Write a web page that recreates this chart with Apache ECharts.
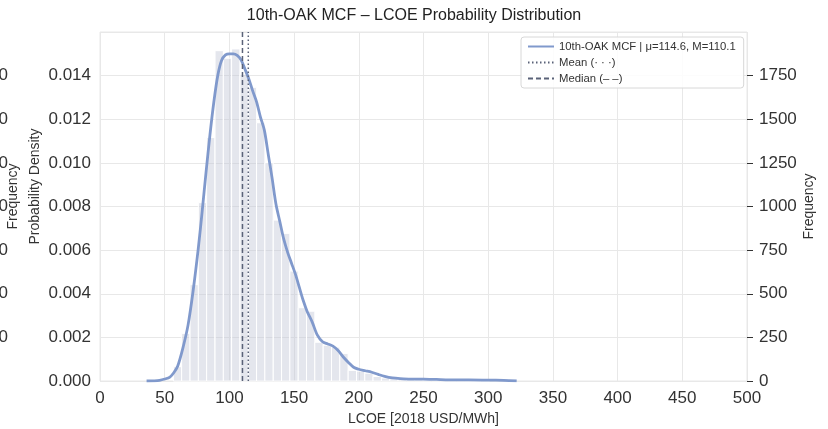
<!DOCTYPE html>
<html>
<head>
    <meta charset="UTF-8">
    <title>LCOE Probability Distribution</title>
    <style type="text/css">
        html, body {
            margin: 0;
            padding: 0;
            background: #ffffff;
        }

        #main {
            width: 828px;
            height: 429px;
        }
    </style>
    <script type="text/javascript" src="https://cdn.jsdelivr.net/npm/echarts@6/dist/echarts.min.js"></script>
</head>
<body>
<div id="main"></div>
<script type="text/javascript">
    // histogram: left edge of each bin (USD/MWh) and counts (right axis)
    var binWidth = 6.43;
    var binLeft = [56.7, 63.1, 69.6, 76.0, 82.4, 88.9, 95.3, 101.7, 108.2, 114.6,
        121.0, 127.4, 133.9, 140.3, 146.7, 153.2, 159.6, 166.0, 172.5, 178.9,
        185.3, 191.8, 198.2, 204.6, 211.0, 217.5, 223.9, 230.3, 236.8, 243.2,
        249.6, 256.1, 262.5, 268.9, 275.4, 281.8, 288.2, 294.7];
    var binCount = [82, 273, 552, 1022, 1395, 1893, 1850, 1903, 1758, 1683,
        1480, 1250, 922, 846, 630, 420, 400, 222, 205, 194,
        158, 61, 57, 45, 26, 17, 13, 10, 8, 7,
        5, 4, 3, 3, 2, 2, 1, 1];

    // KDE curve (left axis, probability density)
    var kdeX = [36, 42, 46, 50, 54, 57, 60, 64, 68, 72, 76, 79, 82, 85, 88, 91, 94, 97, 100, 103,
        106, 109, 112, 115, 118, 121, 124, 127, 130, 133, 136, 139, 142, 145, 148, 151, 154, 157, 160, 164,
        168, 172, 176, 180, 184, 188, 192, 196, 200, 205, 210, 215, 220, 226, 232, 240, 250, 260, 270, 285,
        300, 312, 322];
    var kdeY = [0, 0.00001, 0.00003, 0.00009, 0.00018, 0.00038, 0.00068, 0.0015, 0.00255, 0.00415,
        0.0061, 0.0078, 0.0096, 0.0113, 0.0128, 0.014, 0.0147, 0.01495, 0.015, 0.015,
        0.01493, 0.01472, 0.0143, 0.01385, 0.0133, 0.0128, 0.0121, 0.0115, 0.0104, 0.0093,
        0.0081, 0.0073, 0.0065, 0.0059, 0.0054, 0.0049, 0.0043, 0.0037, 0.0032, 0.0027,
        0.0021, 0.0018, 0.0017, 0.0016, 0.0014, 0.0011, 0.00085, 0.00063, 0.00054, 0.00047,
        0.0004, 0.0003, 0.00021, 0.00014, 0.00011, 0.00009, 0.00009, 0.00007, 0.00005, 0.00005,
        0.00004, 0.00003, 0.00001];

    var meanVal = 114.6;
    var medianVal = 110.1;
    var kdeName = '10th-OAK MCF | μ=114.6, M=110.1';

    var xTicks = [0, 50, 100, 150, 200, 250, 300, 350, 400, 450, 500];

    var font = '"Liberation Sans", Arial, Helvetica, sans-serif';
    var gridColor = '#e8e8e8';
    var tickFont = 17;
    var nameFont = 14;

    var histData = binLeft.map(function (l, i) {
        return [l, l + binWidth, binCount[i]];
    });
    var kdeData = kdeX.map(function (x, i) {
        return [x, kdeY[i]];
    });

    var chart = echarts.init(document.getElementById('main'), null, {renderer: 'canvas'});

    var option = {
        animation: false,
        backgroundColor: '#ffffff',
        textStyle: {fontFamily: font},
        title: {
            text: '10th-OAK MCF – LCOE Probability Distribution',
            left: 'center',
            top: 3,
            textStyle: {fontFamily: font, fontSize: 16, fontWeight: 'normal', color: '#222'}
        },
        legend: {
            orient: 'vertical',
            left: 521,
            top: 37,
            padding: [4, 8, 4, 6],
            itemGap: 5,
            itemWidth: 26,
            itemHeight: 12,
            borderColor: '#d8d8d8',
            borderWidth: 1,
            borderRadius: 3,
            backgroundColor: 'rgba(255,255,255,0.85)',
            itemStyle: {opacity: 0},
            textStyle: {fontFamily: font, fontSize: 11.3, color: '#333'},
            data: [kdeName, 'Mean (· · ·)', 'Median (– –)']
        },
        grid: {
            left: 100,
            right: 81,
            top: 32,
            bottom: 48,
            containLabel: false,
            outerBoundsMode: 'none',
            show: true,
            borderColor: gridColor,
            borderWidth: 1
        },
        xAxis: {
            type: 'value',
            min: xTicks[0],
            max: xTicks[xTicks.length - 1],
            interval: 50,
            name: 'LCOE [2018 USD/MWh]',
            nameLocation: 'middle',
            nameGap: 31,
            nameTextStyle: {fontFamily: font, fontSize: nameFont, color: '#333'},
            axisLine: {show: false},
            axisTick: {show: false},
            axisLabel: {fontFamily: font, fontSize: tickFont, color: '#333', margin: 9},
            splitLine: {lineStyle: {color: gridColor, width: 1}}
        },
        yAxis: [
            {
                type: 'value',
                min: 0,
                max: 0.016,
                interval: 0.002,
                position: 'left',
                name: 'Probability Density',
                nameLocation: 'middle',
                nameGap: 58,
                nameMoveOverlap: false,
                nameTextStyle: {fontFamily: font, fontSize: nameFont, color: '#333', padding: [0, 0, 0, 40]},
                axisLine: {show: false},
                axisTick: {show: false},
                axisLabel: {
                    fontFamily: font, fontSize: tickFont, color: '#333', margin: 9, showMaxLabel: false,
                    formatter: function (v) {
                        return v.toFixed(3);
                    }
                },
                splitLine: {lineStyle: {color: gridColor, width: 1}}
            },
            {
                type: 'value',
                min: 0,
                max: 2000,
                interval: 250,
                position: 'right',
                name: 'Frequency',
                nameLocation: 'middle',
                nameGap: 55,
                nameMoveOverlap: false,
                nameTextStyle: {fontFamily: font, fontSize: nameFont, color: '#333'},
                axisLine: {show: false},
                axisTick: {show: true, length: 6, lineStyle: {color: '#333', width: 1}},
                axisLabel: {
                    fontFamily: font, fontSize: tickFont, color: '#333', margin: 12, showMaxLabel: false,
                    formatter: function (v) {
                        return String(v);
                    }
                },
                splitLine: {show: false}
            },
            {
                // twin frequency axis left over on the far left, mostly cut off
                type: 'value',
                min: 0,
                max: 2000,
                interval: 250,
                position: 'left',
                offset: 88,
                name: 'Frequency',
                nameLocation: 'middle',
                nameGap: -8,
                nameMoveOverlap: false,
                nameTextStyle: {fontFamily: font, fontSize: nameFont, color: '#333', padding: [0, 0, 0, 20]},
                axisLine: {show: false},
                axisTick: {show: false},
                axisLabel: {
                    fontFamily: font, fontSize: tickFont, color: '#333', margin: 4,
                    showMaxLabel: false, showMinLabel: false,
                    formatter: function (v) {
                        return String(v);
                    }
                },
                splitLine: {show: false}
            }
        ],
        series: [
            {
                name: 'hist',
                type: 'custom',
                yAxisIndex: 1,
                z: 1,
                renderItem: function (params, api) {
                    var p0 = api.coord([api.value(0), 0]);
                    var p1 = api.coord([api.value(1), api.value(2)]);
                    return {
                        type: 'rect',
                        shape: {x: p0[0], y: p1[1], width: p1[0] - p0[0], height: p0[1] - p1[1]},
                        style: {fill: 'rgba(196,200,216,0.45)', stroke: '#ffffff', lineWidth: 1}
                    };
                },
                encode: {x: [0, 1], y: 2},
                data: histData
            },
            {
                name: kdeName,
                type: 'line',
                yAxisIndex: 0,
                z: 3,
                smooth: 0.3,
                symbol: 'none',
                lineStyle: {color: '#8099cc', width: 2.8},
                itemStyle: {color: '#8099cc'},
                data: kdeData
            },
            {
                name: 'Mean (· · ·)',
                type: 'line',
                yAxisIndex: 0,
                z: 4,
                symbol: 'none',
                lineStyle: {color: '#5a6278', width: 1.5, type: [1.5, 2.5]},
                itemStyle: {color: '#5a6278'},
                data: [[meanVal, 0], [meanVal, 0.016]]
            },
            {
                name: 'Median (– –)',
                type: 'line',
                yAxisIndex: 0,
                z: 4,
                symbol: 'none',
                lineStyle: {color: '#5a6278', width: 1.5, type: [5, 3]},
                itemStyle: {color: '#5a6278'},
                data: [[medianVal, 0], [medianVal, 0.016]]
            }
        ]
    };

    chart.setOption(option);
</script>
</body>
</html>
